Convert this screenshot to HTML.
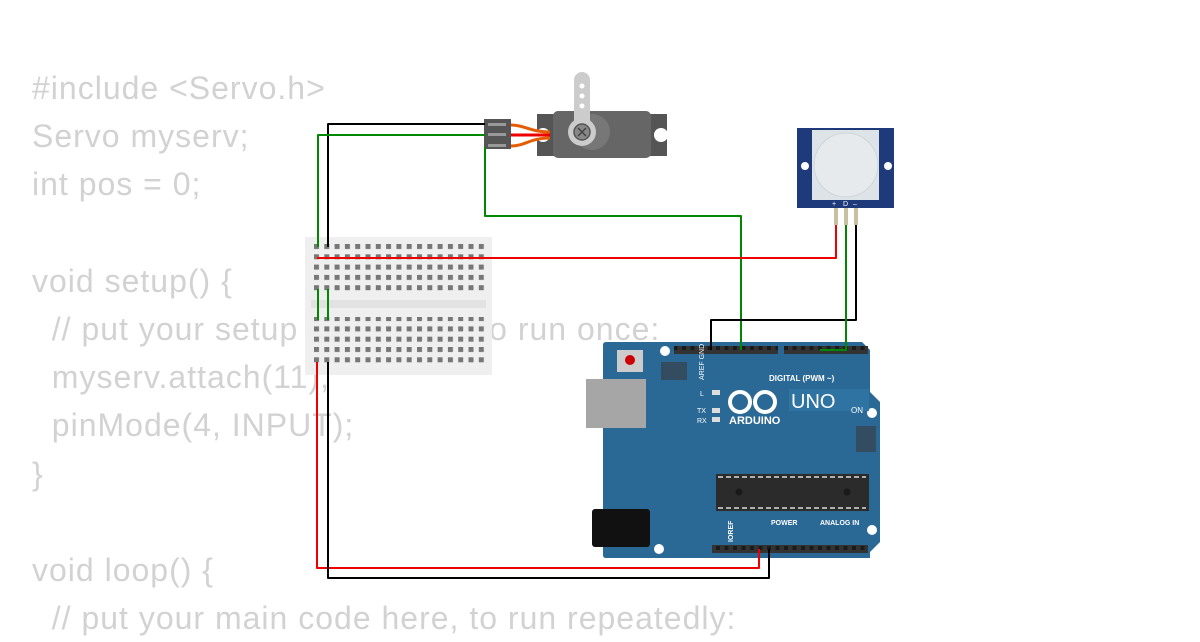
<!DOCTYPE html>
<html><head><meta charset="utf-8"><style>
body{margin:0;width:1200px;height:630px;overflow:hidden;background:#fff;position:relative;font-family:"Liberation Sans",sans-serif}
pre{position:absolute;left:32px;top:64px;margin:0;font-family:"Liberation Sans",sans-serif;font-size:32px;letter-spacing:1px;line-height:48.2px;color:#d2d2d2}
svg{position:absolute;left:0;top:0}
</style></head><body>
<pre>#include &lt;Servo.h&gt;
Servo myserv;
int pos = 0;

void setup() {
  // put your setup code here, to run once:
  myserv.attach(11);
  pinMode(4, INPUT);
}

void loop() {
  // put your main code here, to run repeatedly:</pre>
<svg width="1200" height="630" viewBox="0 0 1200 630">
<defs>
<pattern id="bb" x="314" y="244" width="10.3" height="10.3" patternUnits="userSpaceOnUse"><rect width="5" height="5" fill="#777"/></pattern>
<pattern id="hd" x="0" y="0" width="8.5" height="8" patternUnits="userSpaceOnUse"><rect width="8.5" height="8" fill="#333"/><rect x="2" y="2" width="4" height="4" fill="#1b1b1b"/></pattern>
</defs>
<rect x="305" y="237" width="187" height="138" fill="#eeeeee" opacity="0.96"/>
<rect x="311" y="300" width="175" height="8" fill="#e2e2e2"/>
<rect x="314" y="244" width="175" height="50" fill="url(#bb)"/>
<rect x="314" y="317" width="175" height="50" fill="url(#bb)"/>
<rect x="537" y="114" width="130" height="42" fill="#555"/>
<rect x="553" y="111" width="98" height="47" rx="5" fill="#666"/>
<circle cx="543" cy="135" r="7" fill="#fff"/><circle cx="661" cy="135" r="7" fill="#fff"/>
<circle cx="592" cy="132" r="18" fill="#777"/>
<path d="M574,80 a8,8 0 0 1 16,0 L590,125 L574,125Z" fill="#ccc"/>
<circle cx="582" cy="132" r="14" fill="#ccc"/>
<circle cx="582" cy="132" r="8" fill="#888" stroke="#555" stroke-width="1.5"/>
<path d="M578,128 l8,8 M586,128 l-8,8" stroke="#444" stroke-width="1.5"/>
<circle cx="582" cy="86" r="2.5" fill="#fff"/><circle cx="582" cy="96" r="2.5" fill="#fff"/><circle cx="582" cy="106" r="2.5" fill="#fff"/>
<path d="M511,125 C525,125 530,132 550,132 M511,135 L550,135 M511,146 C525,146 530,138 550,138" stroke="#e65c00" stroke-width="3" fill="none"/>
<path d="M511,135 L550,135" stroke="#e00" stroke-width="3"/>
<rect x="484" y="119" width="27" height="30" fill="#555"/>
<rect x="488" y="123" width="18" height="3" fill="#999"/><rect x="488" y="133" width="18" height="3" fill="#999"/><rect x="488" y="144" width="18" height="3" fill="#999"/>
<rect x="797" y="128" width="97" height="80" fill="#1f3a7a"/>
<rect x="812" y="130" width="67" height="70" fill="#dde3e6"/>
<circle cx="846" cy="165" r="32" fill="#e6eaec" stroke="#cfd6d9"/>
<circle cx="805" cy="166" r="4" fill="#fff"/><circle cx="888" cy="166" r="4" fill="#fff"/>
<text x="832" y="206" font-size="7" fill="#fff">+</text><text x="843" y="206" font-size="7" fill="#fff">D</text><text x="853" y="206" font-size="7" fill="#fff">–</text>
<rect x="834" y="208" width="4" height="17" fill="#c9c0a0"/><rect x="844" y="208" width="4" height="17" fill="#c9c0a0"/><rect x="854" y="208" width="4" height="17" fill="#c9c0a0"/>
<path d="M606,342 H862 L870,350 V392 L880,402 V542 L870,552 V558 H606 Q603,558 603,555 V345 Q603,342 606,342Z" fill="#2a6896"/>
<rect x="586" y="379" width="60" height="49" fill="#a6a6a6"/>
<rect x="592" y="509" width="58" height="38" rx="3" fill="#111"/>
<rect x="617" y="350" width="26" height="22" fill="#ccc"/><circle cx="630" cy="360" r="5" fill="#c00"/>
<circle cx="665" cy="351" r="5" fill="#fff"/><circle cx="659" cy="549" r="5" fill="#fff"/><circle cx="872" cy="413" r="5" fill="#fff"/><circle cx="872" cy="530" r="5" fill="#fff"/>
<rect x="661" y="362" width="26" height="18" fill="#3a3a3a" opacity="0.6"/>
<rect x="856" y="426" width="20" height="26" fill="#3a3a3a" opacity="0.6"/>
<rect x="674" y="346" width="104" height="8" fill="url(#hd)"/>
<rect x="784" y="346" width="84" height="8" fill="url(#hd)"/>
<rect x="712" y="545" width="93" height="8" fill="url(#hd)"/>
<rect x="805" y="545" width="63" height="8" fill="url(#hd)"/>
<rect x="716" y="474" width="153" height="37" fill="#2b2b2b"/>
<path d="M718,477 H866 M718,508 H866" stroke="#ddd" stroke-width="1.5" stroke-dasharray="5,3"/>
<circle cx="739" cy="492" r="3.5" fill="#1a1a1a"/><circle cx="847" cy="492" r="3.5" fill="#1a1a1a"/>
<text x="769" y="381" font-size="8" font-weight="bold" fill="#fff">DIGITAL (PWM ~)</text>
<text x="704" y="380" font-size="7" fill="#fff" transform="rotate(-90 704 380)">AREF GND 13 12</text>
<circle cx="740" cy="402" r="10" fill="none" stroke="#fff" stroke-width="4"/><circle cx="765" cy="402" r="10" fill="none" stroke="#fff" stroke-width="4"/>
<text x="729" y="424" font-size="11" font-weight="bold" fill="#fff">ARDUINO</text>
<rect x="789" y="389" width="80" height="22" fill="#2f73a3"/>
<text x="791" y="408" font-size="20" fill="#fff">UNO</text>
<text x="851" y="413" font-size="8" fill="#fff">ON</text>
<text x="700" y="396" font-size="7" fill="#fff">L</text><text x="697" y="413" font-size="7" fill="#fff">TX</text><text x="697" y="423" font-size="7" fill="#fff">RX</text>
<rect x="712" y="390" width="8" height="5" fill="#ddd"/><rect x="712" y="408" width="8" height="5" fill="#ddd"/><rect x="712" y="417" width="8" height="5" fill="#ddd"/>
<text x="771" y="525" font-size="7" font-weight="bold" fill="#fff">POWER</text>
<text x="820" y="525" font-size="7" font-weight="bold" fill="#fff">ANALOG IN</text>
<text x="733" y="542" font-size="7" font-weight="bold" fill="#fff" transform="rotate(-90 733 542)">IOREF</text>
<g fill="none" stroke-width="2" stroke-linejoin="round">
<path d="M485,124 H328 V247" stroke="#000"/>
<path d="M485,135 H318 V247" stroke="#080"/>
<path d="M485,147 V216 H741 V350" stroke="#080"/>
<path d="M317,258 H836 V225" stroke="#e00"/>
<path d="M856,225 V320 H711 V350" stroke="#000"/>
<path d="M846,225 V350 H820" stroke="#080"/>
<path d="M318,289 V320 M328,289 V320" stroke="#080"/>
<path d="M317,362 V568 H759 V549" stroke="#e00"/>
<path d="M328,362 V578 H769 V549" stroke="#000"/>
</g>
</svg>
</body></html>
